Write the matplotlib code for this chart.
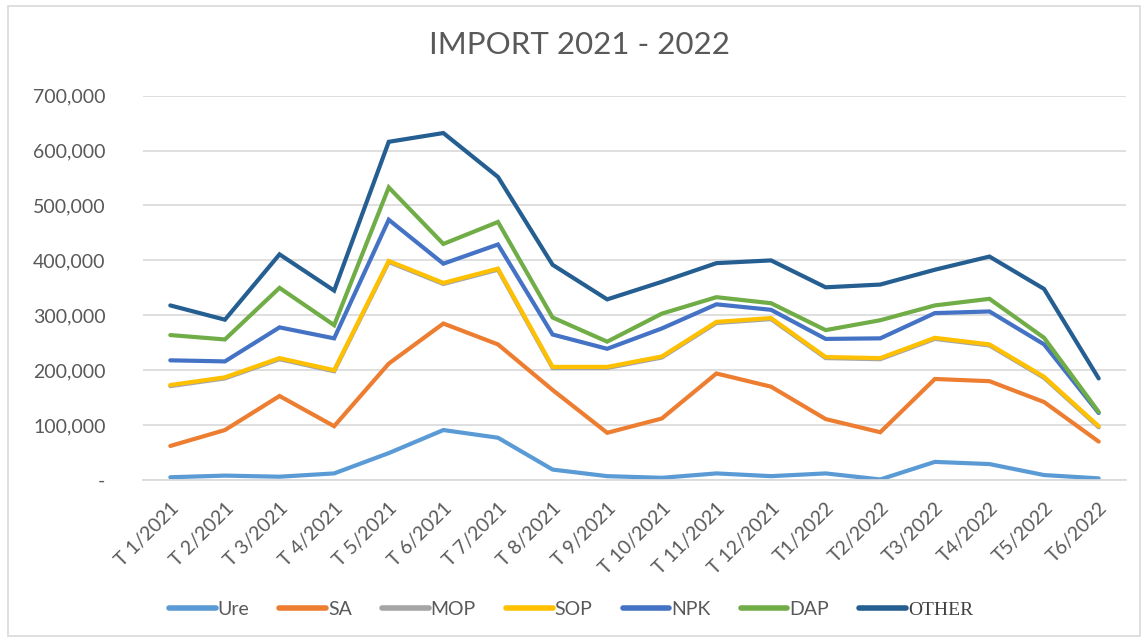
import matplotlib
matplotlib.use("Agg")
import matplotlib.pyplot as plt
from matplotlib.patches import Rectangle
from matplotlib.ticker import FuncFormatter

categories = ["T 1/2021", "T 2/2021", "T 3/2021", "T 4/2021", "T 5/2021", "T 6/2021",
              "T 7/2021", "T 8/2021", "T 9/2021", "T 10/2021", "T 11/2021", "T 12/2021",
              "T1/2022", "T2/2022", "T3/2022", "T4/2022", "T5/2022", "T6/2022"]

# plotted (cumulative) values
ure = [5000, 8000, 6000, 12000, 49000, 91000, 77000, 19000, 7000, 4000, 12000, 7000,
       12000, 1000, 33000, 29000, 9000, 3000]
sa = [62000, 91000, 153000, 98000, 212000, 285000, 247000, 164000, 86000, 112000, 194000, 170000,
      111000, 87000, 184000, 180000, 142000, 70000]
mop = [171000, 185000, 220000, 198000, 397000, 357000, 383000, 204000, 204000, 223000, 286000, 293000,
       222000, 220000, 257000, 245000, 186000, 96000]
sop = [173000, 187000, 222000, 200000, 399000, 359000, 385000, 206000, 206000, 225000, 288000, 295000,
       224000, 222000, 259000, 247000, 188000, 98000]
npk = [218000, 216000, 278000, 258000, 474000, 394000, 429000, 265000, 239000, 276000, 320000, 310000,
       257000, 258000, 304000, 307000, 247000, 122000]
dap = [264000, 256000, 350000, 282000, 533000, 430000, 470000, 296000, 252000, 303000, 333000, 322000,
       273000, 291000, 318000, 330000, 259000, 124000]
other = [318000, 292000, 411000, 345000, 616000, 632000, 552000, 392000, 329000, 361000, 395000, 400000,
         351000, 356000, 383000, 407000, 348000, 185000]

series_names = ["Ure", "SA", "MOP", "SOP", "NPK", "DAP", "OTHER"]
series_values = [ure, sa, mop, sop, npk, dap, other]
colors = ["#5B9BD5", "#ED7D31", "#A5A5A5", "#FFC000", "#4472C4", "#70AD47", "#255E91"]

plt.rcParams['font.family'] = ['Lato', 'DejaVu Sans']

fig = plt.figure(figsize=(11.48, 6.42), dpi=100)
fig.patches.append(Rectangle((8 / 1148, 1 - 636 / 642), 1132 / 1148, 630 / 642,
                             transform=fig.transFigure, fill=False,
                             edgecolor="#D9D9D9", lw=1.2))

ax = fig.add_axes([143 / 1148, 1 - 480 / 642, (1126 - 143) / 1148, (480 - 95.7) / 642])
x = list(range(len(categories)))
for name, vals, c in zip(series_names, series_values, colors):
    ax.plot(x, vals, color=c, lw=3.0, label=name, solid_capstyle="round",
            solid_joinstyle="miter")

ax.set_xlim(-0.5, len(categories) - 0.5)
ax.set_ylim(0, 700000)
ax.set_yticks(range(0, 700001, 100000))
ax.yaxis.set_major_formatter(FuncFormatter(lambda v, p: "-" if v == 0 else f"{int(v):,}"))
ax.grid(axis="y", color="#D9D9D9", lw=1.2)
ax.set_axisbelow(True)
for s in ["top", "right", "left"]:
    ax.spines[s].set_visible(False)
ax.spines["bottom"].set_color("#D9D9D9")
ax.spines["bottom"].set_linewidth(1.2)
ax.tick_params(axis="both", length=0, labelsize=14, colors="#595959")
ax.tick_params(axis="y", pad=27)
ax.set_xticks(x)
ax.set_xticklabels(categories, rotation=45, ha="right", rotation_mode="anchor")
ax.tick_params(axis="x", pad=14)

fig.text(0.505, 1 - 45 / 642, "IMPORT 2021 - 2022", ha="center", va="center",
         fontsize=22.5, color="#595959")

leg = fig.legend(loc="center", bbox_to_anchor=(571 / 1148, 1 - 610 / 642), ncol=7,
                 frameon=False, fontsize=14, handlelength=2.4, handletextpad=0.1,
                 columnspacing=1.55)
for t in leg.get_texts():
    t.set_color("#595959")
leg.get_texts()[-1].set_fontfamily(["Liberation Serif"])
leg.get_texts()[-1].set_color("#404040")
for h in leg.get_lines():
    h.set_linewidth(4)

fig.savefig("out.png", dpi=100)
